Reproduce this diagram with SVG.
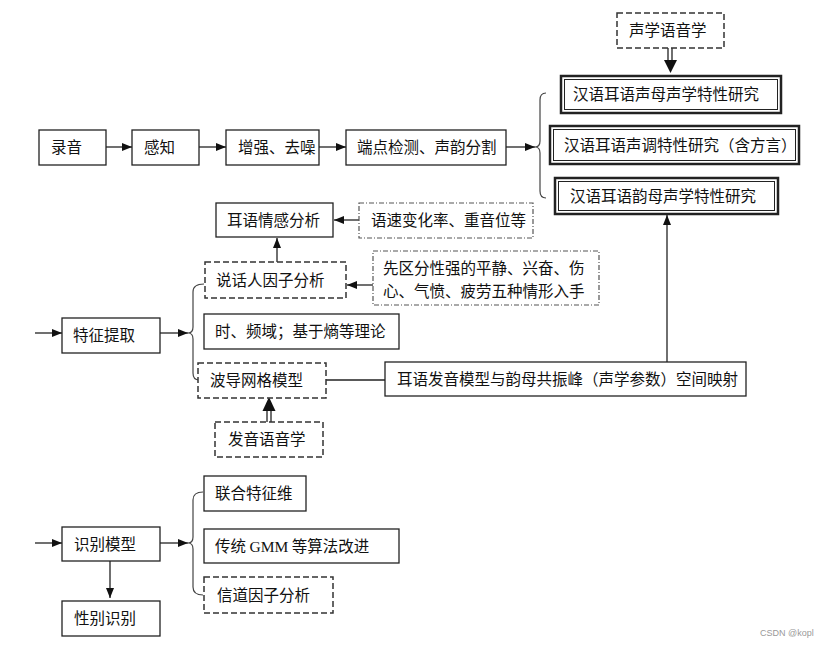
<svg xmlns="http://www.w3.org/2000/svg" width="828" height="647" viewBox="0 0 828 647">
<defs>
<marker id="ah" markerUnits="userSpaceOnUse" markerWidth="10" markerHeight="10" viewBox="0 0 10 10" refX="10" refY="5" orient="auto">
<path d="M0,1 L10,5 L0,9 Z" fill="#111"/>
</marker>
</defs>
<style>
text{font-family:"Noto Sans CJK SC","Liberation Sans",sans-serif;font-size:15.5px;fill:#111}
.b{fill:#fff;stroke:#222;stroke-width:1.3}
.d{fill:#fff;stroke:#333;stroke-width:1.5;stroke-dasharray:6 3}
.dd{fill:#fff;stroke:#555;stroke-width:1.2;stroke-dasharray:5 2 1 2}
.o{fill:#fff;stroke:#222;stroke-width:2.5}
.i{fill:none;stroke:#222;stroke-width:1}
.c{fill:none;stroke:#222;stroke-width:1.3}
.br{fill:none;stroke:#444;stroke-width:1.2}
.s{font-family:"Liberation Serif",serif}
</style>
<rect width="828" height="647" fill="#fff"/>
<g id="connectors">
<line class="c" x1="106" y1="147" x2="132" y2="147" marker-end="url(#ah)"/>
<line class="c" x1="199" y1="147" x2="226" y2="147" marker-end="url(#ah)"/>
<line class="c" x1="319" y1="147" x2="346" y2="147" marker-end="url(#ah)"/>
<line class="c" x1="506" y1="147" x2="535" y2="147" marker-end="url(#ah)"/>
<path class="br" d="M546,93 Q540,93 540,100 L540,141 Q540,147 535,147 Q540,147 540,153 L540,191 Q540,198 546,198"/>
<line class="c" x1="668" y1="48" x2="668" y2="61"/>
<line class="c" x1="672" y1="48" x2="672" y2="61"/>
<path d="M664,60 L677,60 L670.5,73 Z" fill="#111"/>
<line class="c" x1="359" y1="220" x2="334" y2="220" marker-end="url(#ah)"/>
<line class="c" x1="373" y1="285" x2="347" y2="285" marker-end="url(#ah)"/>
<line class="c" x1="277" y1="262" x2="277" y2="238" marker-end="url(#ah)"/>
<line class="c" x1="35" y1="333" x2="62" y2="333" marker-end="url(#ah)"/>
<line class="c" x1="160" y1="333" x2="188" y2="333" marker-end="url(#ah)"/>
<path class="br" d="M204,284 Q193,284 193,292 L193,327 Q193,333 188,333 Q193,333 193,339 L193,373 Q193,380 199,380"/>
<line class="c" x1="326" y1="380" x2="385" y2="380"/>
<line class="c" x1="667" y1="362" x2="667" y2="215" marker-end="url(#ah)"/>
<line class="c" x1="267" y1="410" x2="267" y2="422"/>
<line class="c" x1="271" y1="410" x2="271" y2="422"/>
<path d="M262.5,411 L275.5,411 L269,397 Z" fill="#111"/>
<line class="c" x1="35" y1="543" x2="62" y2="543" marker-end="url(#ah)"/>
<line class="c" x1="160" y1="543" x2="188" y2="543" marker-end="url(#ah)"/>
<path class="br" d="M203,492 Q193,492 193,500 L193,537 Q193,543 188,543 Q193,543 193,549 L193,587 Q193,595 203,595"/>
<line class="c" x1="110" y1="561" x2="110" y2="598" marker-end="url(#ah)"/>
</g>
<g id="n-luyin"><rect class="b" x="39" y="130" width="67" height="35"/><text x="51" y="153">录音</text></g>
<g id="n-ganzhi"><rect class="b" x="132" y="130" width="67" height="35"/><text x="144" y="153">感知</text></g>
<g id="n-zengqiang"><rect class="b" x="226" y="130" width="93" height="35"/><text x="238" y="153">增强、去噪</text></g>
<g id="n-duandian"><rect class="b" x="346" y="130" width="160" height="35"/><text x="357" y="153">端点检测、声韵分割</text></g>
<g id="n-shengxue"><rect class="d" x="617" y="13" width="107" height="35"/><text x="629" y="36">声学语音学</text></g>
<g id="n-shengmu"><rect class="o" x="561" y="76" width="220" height="37"/><rect class="i" x="564.5" y="79.5" width="213" height="30"/><text x="573" y="100">汉语耳语声母声学特性研究</text></g>
<g id="n-shengdiao"><rect class="o" x="550" y="126" width="249" height="38"/><rect class="i" x="553.5" y="129.5" width="242" height="31"/><text x="564" y="151">汉语耳语声调特性研究（含方言）</text></g>
<g id="n-yunmu"><rect class="o" x="555" y="178" width="223" height="36"/><rect class="i" x="558.5" y="181.5" width="216" height="29"/><text x="570" y="202">汉语耳语韵母声学特性研究</text></g>
<g id="n-qinggan"><rect class="b" x="216" y="203" width="117" height="34"/><text x="227" y="226">耳语情感分析</text></g>
<g id="n-yusu"><rect class="dd" x="359" y="203" width="174" height="35"/><text x="371" y="226">语速变化率、重音位等</text></g>
<g id="n-shuohuaren"><rect class="d" x="205" y="262" width="141" height="36"/><text x="216" y="286">说话人因子分析</text></g>
<g id="n-xianqufen"><rect class="dd" x="373" y="251" width="226" height="54"/><text x="383" y="274">先区分性强的平静、兴奋、伤</text><text x="383" y="297">心、气愤、疲劳五种情形入手</text></g>
<g id="n-tezheng"><rect class="b" x="62" y="318" width="98" height="35"/><text x="73" y="341">特征提取</text></g>
<g id="n-shipin"><rect class="b" x="204" y="314" width="195" height="35"/><text x="215" y="337">时、频域；基于熵等理论</text></g>
<g id="n-bodao"><rect class="d" x="198" y="363" width="128" height="35"/><text x="210" y="386">波导网格模型</text></g>
<g id="n-fayinmoxing"><rect class="b" x="385" y="362" width="361" height="34"/><text x="397" y="385">耳语发音模型与韵母共振峰（声学参数）空间映射</text></g>
<g id="n-fayin"><rect class="d" x="215" y="422" width="108" height="35"/><text x="228" y="445">发音语音学</text></g>
<g id="n-shibie"><rect class="b" x="62" y="527" width="98" height="34"/><text x="74" y="550">识别模型</text></g>
<g id="n-lianhe"><rect class="b" x="204" y="476" width="102" height="35"/><text x="215" y="499">联合特征维</text></g>
<g id="n-gmm"><rect class="b" x="204" y="529" width="195" height="34"/><text x="215" y="552">传统 <tspan class="s">GMM</tspan> 等算法改进</text></g>
<g id="n-xindao"><rect class="d" x="204" y="577" width="129" height="36"/><text x="217" y="601">信道因子分析</text></g>
<g id="n-xingbie"><rect class="b" x="62" y="601" width="98" height="35"/><text x="74" y="624">性别识别</text></g>
<text x="760" y="636" style="font-family:'Liberation Sans',sans-serif;font-size:9px;fill:#999">CSDN @kopl</text>
</svg>
